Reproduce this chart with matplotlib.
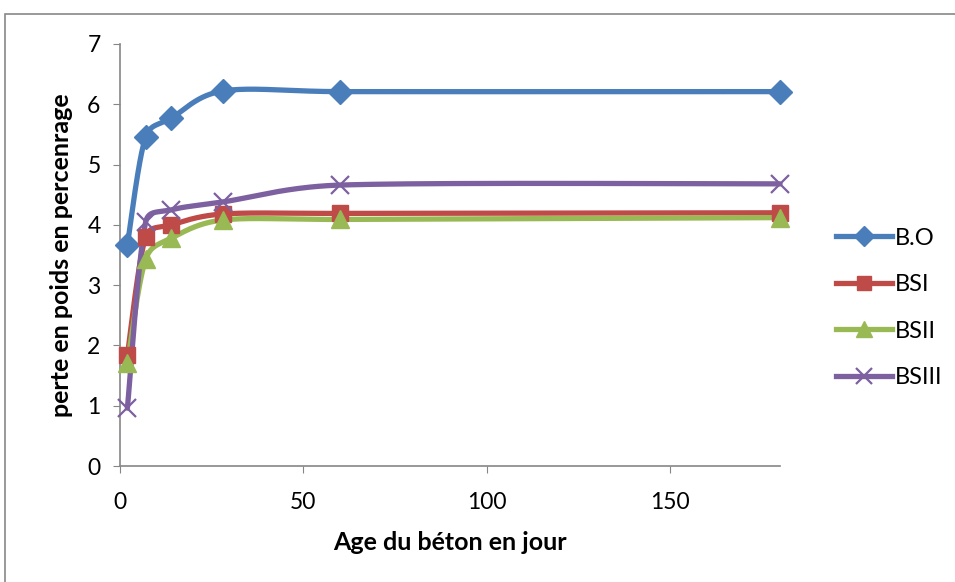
import numpy as np
import matplotlib
matplotlib.use("Agg")
import matplotlib.pyplot as plt
from matplotlib.patches import Rectangle

plt.rcParams['font.family'] = ['Lato', 'DejaVu Sans']

jours = [2, 7, 14, 28, 60, 180]
b_o = [3.67, 5.46, 5.77, 6.22, 6.21, 6.21]
bsi = [1.84, 3.80, 4.00, 4.18, 4.19, 4.20]
bsii = [1.71, 3.43, 3.78, 4.08, 4.09, 4.12]
bsiii = [0.96, 4.05, 4.25, 4.38, 4.66, 4.68]

series = [
    ("B.O", b_o, "#4A7EBB", "D", 12),
    ("BSI", bsi, "#BE4B48", "s", 12),
    ("BSII", bsii, "#98B954", "^", 13),
    ("BSIII", bsiii, "#7D60A0", "x", 13),
]

xmax, ymax = 180, 7
# pixel size of the plot area, smoothing is done in that space like excel does
W, H = 660.0, 422.0


def smooth(xs, ys, n=50):
    pts = np.column_stack([np.array(xs, float) / xmax * W, np.array(ys, float) / ymax * H])
    out = []
    for i in range(len(pts) - 1):
        p0 = pts[i - 1] if i > 0 else pts[i]
        p1 = pts[i]
        p2 = pts[i + 1]
        p3 = pts[i + 2] if i + 2 < len(pts) else pts[i + 1]
        seglen = np.hypot(*(p2 - p1))
        d1 = (p2 - p0) / 6
        d2 = (p3 - p1) / 6
        # keep control points close when neighbouring segments are very different
        lim = 0.45 * seglen
        if np.hypot(*d1) > lim:
            d1 = d1 / np.hypot(*d1) * lim
        if np.hypot(*d2) > lim:
            d2 = d2 / np.hypot(*d2) * lim
        c1 = p1 + d1
        c2 = p2 - d2
        t = np.linspace(0, 1, n)[:, None]
        seg = ((1 - t) ** 3) * p1 + 3 * ((1 - t) ** 2) * t * c1 + 3 * (1 - t) * t ** 2 * c2 + t ** 3 * p2
        out.append(seg)
    out = np.vstack(out)
    return out[:, 0] / W * xmax, out[:, 1] / H * ymax


fig = plt.figure(figsize=(9.55, 5.82), dpi=100)
ax = fig.add_axes([0.1257, 0.1993, 0.6911, 0.7251])

for name, vals, col, mk, ms in series:
    sx, sy = smooth(jours, vals)
    ax.plot(sx, sy, color=col, lw=3.8, solid_capstyle='round', zorder=2, clip_on=False)
    mew = 1.6 if mk == "x" else 1
    ax.plot(jours, vals, linestyle='none', marker=mk, color=col, ms=ms, mew=mew, zorder=3, clip_on=False)
    ax.plot([], [], color=col, lw=3.8, marker=mk, ms=ms * 0.85, mew=mew, label=name)

ax.set_xlim(0, xmax)
ax.set_ylim(0, ymax)
ax.set_xticks([0, 50, 100, 150])
ax.set_yticks(range(0, 8))
ax.spines['top'].set_visible(False)
ax.spines['right'].set_visible(False)
for s in ['left', 'bottom']:
    ax.spines[s].set_color('#868686')
    ax.spines[s].set_linewidth(1.2)
ax.tick_params(colors='#868686', labelcolor='black', labelsize=16.5, length=5, direction='out', pad=9)
ax.tick_params(axis='x', pad=14)

ax.set_xlabel("Age du béton en jour", fontsize=18, fontweight='bold', labelpad=13)
ax.set_ylabel("perte en poids en percenrage", fontsize=18, fontweight='bold', labelpad=10)

leg = ax.legend(loc='center left', bbox_to_anchor=(1.07, 0.375), frameon=False, fontsize=17,
                handlelength=2.4, labelspacing=1.08, handletextpad=0.1, borderaxespad=0)

fig.patches.append(Rectangle((5 / 955, -0.1), 1.2, 1.1 - 14 / 582, transform=fig.transFigure,
                             fill=False, edgecolor='#888888', lw=1.2))

fig.savefig("out.png", dpi=100)
